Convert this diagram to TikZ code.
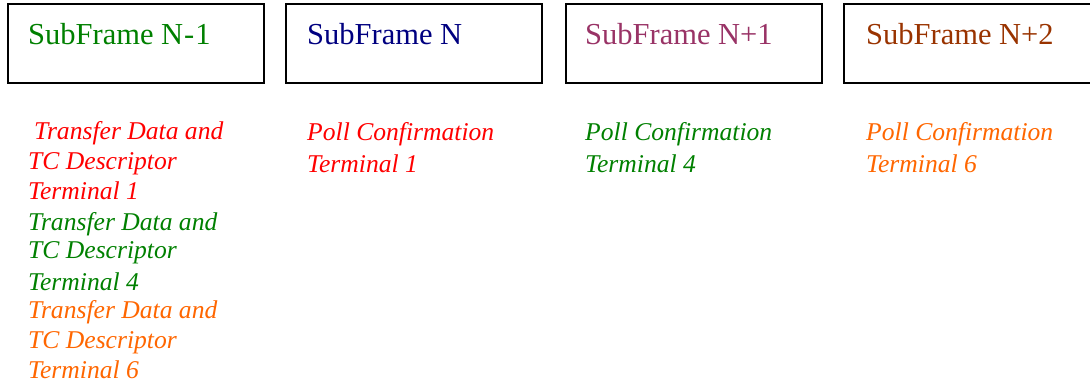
\documentclass[tikz,border=0pt]{standalone}
\usepackage{fontspec}
\setmainfont{Liberation Serif}
\definecolor{cgreen}{RGB}{0,128,0}
\definecolor{cnavy}{RGB}{0,0,128}
\definecolor{cplum}{RGB}{153,51,102}
\definecolor{cbrown}{RGB}{153,51,0}
\definecolor{cred}{RGB}{255,0,0}
\definecolor{corange}{RGB}{255,102,0}
\begin{document}
\begin{tikzpicture}[x=1pt,y=-1pt,
  frame/.style={draw=black,line width=1.8pt,minimum width=256pt,minimum height=79pt,inner sep=0pt,anchor=north west},
  title/.style={anchor=base west,inner sep=0pt,font=\fontsize{30.5}{36}\selectfont},
  info/.style={anchor=base west,inner sep=0pt,align=left,font=\fontsize{25.6}{29.75}\selectfont\itshape}]
\useasboundingbox (0,0) rectangle (1090,385);
\node[frame] (f1) at (7,3) {};
\node[frame] (f2) at (285,3) {};
\node[frame] (f3) at (565,3) {};
\node[frame,minimum width=247pt] (f4) at (843,3) {};
\node[title,text=cgreen] (t1) at (28,45) {SubFrame N\kern1pt-\kern1pt1};
\node[title,text=cnavy] (t2) at (307,45) {SubFrame N};
\node[title,text=cplum] (t3) at (585,45) {SubFrame N+1};
\node[title,text=cbrown] (t4) at (866,45) {SubFrame N+2};
\node[info,text=cred] (a1) at (34,140) {Transfer Data and};
\node[info,text=cred] (a2) at (28,170) {TC Descriptor};
\node[info,text=cred] (a3) at (28,200) {Terminal 1};
\node[info,text=cgreen] (b1) at (28,230) {Transfer Data and};
\node[info,text=cgreen] (b2) at (28,258) {TC Descriptor};
\node[info,text=cgreen] (b3) at (28,290) {Terminal 4};
\node[info,text=corange] (c1) at (28,318) {Transfer Data and};
\node[info,text=corange] (c2) at (28,348) {TC Descriptor};
\node[info,text=corange] (c3) at (28,378) {Terminal 6};
\node[info,text=cred] (p1) at (307,141) {Poll Confirmation};
\node[info,text=cred] (q1) at (307,172) {Terminal 1};
\node[info,text=cgreen] (p2) at (585,141) {Poll Confirmation};
\node[info,text=cgreen] (q2) at (585,172) {Terminal 4};
\node[info,text=corange] (p3) at (866,141) {Poll Confirmation};
\node[info,text=corange] (q3) at (866,172) {Terminal 6};
\end{tikzpicture}
\end{document}
